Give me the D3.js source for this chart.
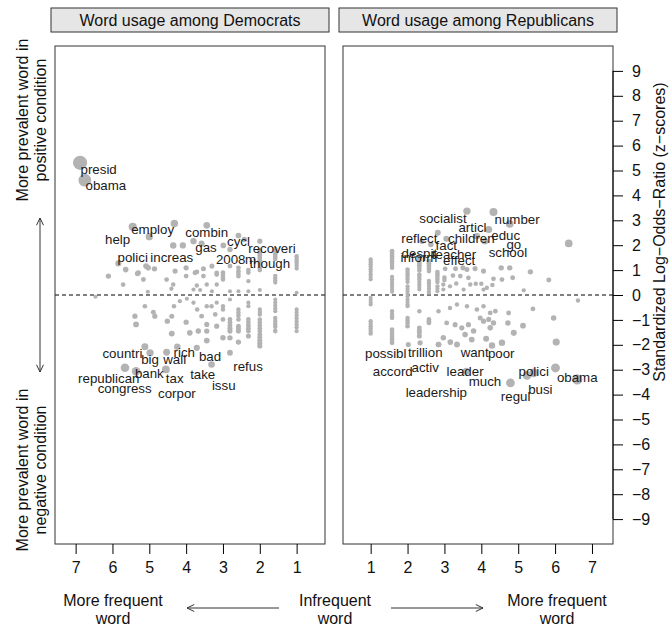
<!DOCTYPE html>
<html>
<head>
<meta charset="utf-8">
<script src="https://cdn.jsdelivr.net/npm/d3@7"></script>
<style>
body { margin: 0; background: #fff; }
text { font-family: "Liberation Sans", Arial, Helvetica, sans-serif; }
</style>
</head>
<body>
<svg id="chart" width="672" height="628"></svg>
<script>
// ---- data ----
const panelTitles = ["Word usage among Democrats", "Word usage among Republicans"];
const xTicks = [1, 2, 3, 4, 5, 6, 7];
const yTicks = [-9, -8, -7, -6, -5, -4, -3, -2, -1, 0, 1, 2, 3, 4, 5, 6, 7, 8, 9];
const yTitle = "Standardized Log\u2212Odds\u2212Ratio (z\u2212scores)";

// [log frequency, z-score]
const demPoints = [
    [6.88, 5.31], [6.75, 4.61],
    [5.45, 2.74], [5.0, 2.34], [4.32, 2.87], [3.44, 2.80], [2.58, 2.39], [2.0, 2.16],
    [4.35, 1.99], [4.09, 1.99], [3.80, 2.16], [3.58, 2.07], [2.99, 1.99], [2.81, 1.83], [2.42, 2.23], [1.58, 1.84],
    [5.84, 1.27], [5.64, 1.02], [5.3, 0.89], [5.09, 1.16], [4.86, 1.05], [4.3, 0.96], [4.0, 1.09], [3.76, 0.89],
    [3.53, 1.05], [3.3, 1.16], [3.17, 0.89], [2.81, 1.16], [2.58, 1.09],
    [6.11, 0.76], [5.71, 0.42], [5.32, 0.86], [5.16, 0.62], [5.03, 1.09], [4.53, 0.62], [4.35, 0.42], [4.0, 0.76],
    [3.71, 0.92], [3.71, 0.38], [3.53, 0.76], [3.44, 0.42], [3.17, 0.82], [3.17, 0.42], [2.31, 0.56],
    [3.8, 0.22], [3.62, 0.2], [3.3, 0.15], [2.81, 0.15], [2.58, 0.15], [2.31, 0.15], [5.04, 0.13], [4.4, 0.25],
    [6.46, -0.07], [1.0, 0.09], [2.0, 0.2],
    [3.0, 0.9], [3.0, 0.8], [3.0, 0.7], [3.0, 0.62],
    [2.58, 0.95], [2.58, 0.85], [2.58, 0.75],
    [2.31, 1.0], [2.31, 0.9],
    [2.0, 1.8], [2.0, 1.7], [2.0, 1.6], [2.0, 1.5], [2.0, 1.4], [2.0, 1.3], [2.0, 1.2], [2.0, 1.1], [2.0, 1.0],
    [1.58, 1.74], [1.58, 1.64], [1.58, 1.54], [1.58, 1.45],
    [1.58, 0.77], [1.58, 0.67], [1.58, 0.58], [1.58, 0.5],
    [1.0, 1.56], [1.0, 1.46], [1.0, 1.36], [1.0, 1.26], [1.0, 1.16], [1.0, 1.06],
    // below zero
    [5.39, -0.85], [5.36, -1.18], [5.12, -0.45], [4.89, -0.69], [4.85, -0.85], [4.51, -1.05], [4.39, -0.85],
    [4.39, -1.55], [4.33, -0.45], [4.17, -0.25], [3.98, -0.15], [4.0, -1.09], [3.9, -1.52], [3.8, -0.31],
    [3.7, -0.58], [3.67, -1.45], [3.58, -0.85], [3.44, -0.45], [3.44, -1.18], [3.44, -1.45], [3.44, -1.83],
    [3.31, -0.45], [3.21, -0.78], [3.17, -0.31], [3.17, -1.25],
    [3.0, -0.45], [3.0, -0.58], [3.0, -0.98], [3.0, -1.72],
    [2.81, -0.18], [2.81, -0.98], [2.81, -1.1], [2.81, -1.22], [2.81, -1.34], [2.81, -1.45], [2.81, -1.72],
    [2.58, -0.58], [2.58, -0.7], [2.58, -0.82], [2.58, -0.98], [2.58, -1.25], [2.58, -1.35], [2.58, -1.45], [2.58, -1.89],
    [2.31, -0.31], [2.31, -0.45], [2.31, -0.98], [2.31, -1.1], [2.31, -1.22], [2.31, -1.34], [2.31, -1.45], [2.31, -1.65],
    [2.0, -0.58], [2.0, -0.68], [2.0, -0.78], [2.0, -0.98], [2.0, -1.1], [2.0, -1.22], [2.0, -1.34], [2.0, -1.45],
    [2.0, -1.59], [2.0, -1.7], [2.0, -1.82], [2.0, -1.94], [2.0, -2.05],
    [1.58, -0.18], [1.58, -0.3], [1.58, -0.42], [1.58, -0.54], [1.58, -0.65],
    [1.58, -0.92], [1.58, -1.04], [1.58, -1.16], [1.58, -1.28], [1.58, -1.45],
    [1.0, -0.58], [1.0, -0.7], [1.0, -0.82], [1.0, -0.94], [1.0, -1.06], [1.0, -1.18], [1.0, -1.3], [1.0, -1.45],
    // labelled words below zero
    [5.12, -2.08], [4.98, -2.32], [5.66, -2.92], [5.36, -3.06], [4.53, -2.3], [4.24, -2.08],
    [3.71, -2.12], [3.31, -2.79], [4.55, -2.99], [2.81, -2.32]
];

// [word, log frequency, z-score] of the text
const demLabels = [
    ["presid", 6.375, 5.04], ["obama", 6.18, 4.41],
    ["employ", 4.91, 2.63], ["help", 5.86, 2.23], ["combin", 3.44, 2.5], ["cycl", 2.58, 2.16],
    ["recoveri", 1.67, 1.88], ["gas", 3.46, 1.9], ["polici", 5.45, 1.51], ["increas", 4.39, 1.51],
    ["2008", 2.79, 1.45], ["m", 2.25, 1.42], ["though", 1.73, 1.27],
    ["countri", 5.73, -2.35], ["big", 4.98, -2.59], ["rich", 4.05, -2.32], ["wall", 4.31, -2.59],
    ["bad", 3.35, -2.46], ["refus", 2.32, -2.86], ["republican", 6.1, -3.33], ["bank", 5.0, -3.13],
    ["tax", 4.31, -3.33], ["take", 3.55, -3.19], ["congress", 5.67, -3.73], ["issu", 2.98, -3.63],
    ["corpor", 4.25, -3.93]
];

const repPoints = [
    [3.61, 3.37], [4.33, 3.33], [4.77, 2.86], [4.2, 2.63], [2.82, 2.5], [3.05, 2.26], [3.88, 2.36],
    [4.1, 2.16], [2.39, 2.16], [2.63, 2.03], [6.37, 2.07],
    [5.33, 0.93], [5.83, 0.6], [5.15, 0.19], [6.62, -0.22], [4.85, 0.69], [4.54, 1.09], [4.77, 1.09],
    [4.33, 0.65], [4.56, 0.62], [4.06, 0.96], [4.15, 0.29], [4.06, 0.22], [3.61, 1.02], [3.5, 1.09],
    [3.3, 1.05], [3.83, 1.06], [3.43, 0.76], [3.65, 0.69], [3.7, 0.42], [3.85, 0.45], [3.32, 0.46],
    [3.52, 0.22], [3.23, 0.78], [3.02, 1.05], [3.15, 0.35], [2.97, 0.42], [2.97, 0.22], [4.3, 0.4], [4.0, 0.45],
    [3.0, 0.6], [3.0, 0.7],
    [1.0, 1.43], [1.0, 1.33], [1.0, 1.23], [1.0, 1.13], [1.0, 1.03], [1.0, 0.93], [1.0, 0.83], [1.0, 0.73], [1.0, 0.63],
    [1.0, -0.11], [1.0, -0.2], [1.0, -0.3], [1.0, -0.38],
    [1.0, -1.05], [1.0, -1.15], [1.0, -1.25], [1.0, -1.35], [1.0, -1.45], [1.0, -1.55],
    [1.58, 1.76], [1.58, 1.66], [1.58, 1.56], [1.58, 1.46], [1.58, 1.36], [1.58, 1.26], [1.58, 1.16], [1.58, 1.09],
    [1.58, 0.73], [1.58, 0.63], [1.58, 0.53], [1.58, 0.43], [1.58, 0.33], [1.58, 0.23], [1.58, 0.13],
    [1.58, -0.65], [1.58, -0.75], [1.58, -0.85], [1.58, -0.92],
    [1.58, -1.39], [1.58, -1.49], [1.58, -1.59], [1.58, -1.69], [1.58, -1.79], [1.58, -1.92],
    [2.0, 1.02], [2.0, 0.92], [2.0, 0.82], [2.0, 0.72], [2.0, 0.62], [2.0, 0.52],
    [2.0, 0.35], [2.0, 0.25], [2.0, 0.15], [2.0, 0.05], [2.0, -0.05],
    [2.0, -0.18], [2.0, -0.28], [2.0, -0.38], [2.0, -0.45],
    [2.0, -0.92], [2.0, -1.02], [2.0, -1.12], [2.0, -1.25], [2.02, -1.99],
    [2.32, 1.49], [2.32, 1.39], [2.32, 1.29], [2.32, 1.19], [2.32, 1.09], [2.32, 0.99],
    [2.32, 0.82], [2.32, 0.72], [2.32, 0.62], [2.32, 0.52], [2.32, 0.42], [2.32, 0.32], [2.32, 0.22],
    [2.32, -0.65], [2.32, -1.32], [2.32, -1.42], [2.32, -1.52], [2.32, -1.65], [2.34, -1.92],
    [2.58, 1.36], [2.58, 1.26], [2.58, 1.16], [2.58, 1.06], [2.58, 0.96],
    [2.58, 0.56], [2.58, 0.46], [2.58, 0.36], [2.58, 0.26], [2.58, 0.16], [2.58, 0.09],
    [2.58, -0.98], [2.58, -1.05], [2.58, -1.12],
    [2.81, 0.92], [2.81, 0.82], [2.81, 0.72], [2.81, 0.62], [2.81, 0.52],
    [2.81, 0.35], [2.81, 0.25], [2.81, 0.15], [2.84, -0.65], [2.84, -1.99],
    [3.15, -0.52], [3.34, -0.38], [3.61, -0.45], [3.88, -0.58], [4.06, -0.45], [4.24, -0.72], [4.38, -0.65],
    [3.06, -1.12], [3.29, -1.19], [3.47, -1.32], [3.65, -1.19], [3.79, -1.45], [3.97, -0.92], [4.06, -1.05],
    [4.2, -0.98], [4.33, -1.12], [3.56, -1.59], [3.74, -1.79], [4.24, -1.32], [4.74, -0.72], [4.72, -1.12],
    [5.4, -0.56], [5.96, -0.92], [5.13, -1.23], [4.88, -1.52], [4.56, -1.92], [4.29, -2.03], [4.13, -1.76],
    [3.34, -1.99], [3.16, -1.89], [2.84, -1.99], [2.97, -1.72], [6.03, -1.89],
    [3.59, -3.06], [4.79, -3.53], [5.24, -3.23], [5.42, -3.13], [6.01, -2.93], [6.6, -3.39]
];

const repLabels = [
    ["socialist", 2.96, 3.06], ["number", 4.97, 3.03], ["articl", 3.76, 2.71], ["reflect", 2.32, 2.28],
    ["children", 3.73, 2.27], ["educ", 4.66, 2.39], ["fact", 3.05, 1.99], ["go", 4.88, 2.03],
    ["despit", 2.32, 1.69], ["inform", 2.31, 1.53], ["teacher", 3.26, 1.63], ["effect", 3.4, 1.4],
    ["school", 4.72, 1.72],
    ["possibl", 1.41, -2.35], ["trillion", 2.48, -2.3], ["want", 3.82, -2.3], ["poor", 4.54, -2.35],
    ["accord", 1.6, -3.05], ["activ", 2.48, -2.89], ["leader", 3.56, -3.05], ["polici", 5.42, -3.05],
    ["obama", 6.6, -3.29], ["much", 4.1, -3.45], ["busi", 5.6, -3.77], ["leadership", 2.78, -3.9],
    ["regul", 4.93, -4.06]
];

// ---- layout ----
const svg = d3.select('#chart');
const plotTop = 46, plotBottom = 544;
const baseFont = '16px', wordFont = '13.3px';
const panels = [
    { x0: 55, x1: 325, domain: [7.56, 0.23], points: demPoints, labels: demLabels, title: panelTitles[0] },
    { x0: 343, x1: 613, domain: [0.25, 7.57], points: repPoints, labels: repLabels, title: panelTitles[1] }
];

const yScale = d3.scaleLinear().domain([-10, 10]).range([plotBottom, plotTop]);
const rScale = d3.scaleLinear().domain([0, 36.5]).range([2, 7.1]);

panels.forEach(p => {
    const xScale = d3.scaleLinear().domain(p.domain).range([p.x0, p.x1]);

    // strip header
    svg.append('rect')
        .attr('x', p.x0 - 4).attr('y', 8)
        .attr('width', p.x1 - p.x0 + 8).attr('height', 24)
        .attr('fill', '#e6e6e6').attr('stroke', '#333').attr('stroke-width', 1);
    svg.append('text')
        .attr('x', (p.x0 + p.x1) / 2).attr('y', 26)
        .attr('text-anchor', 'middle').style('font-size', baseFont).attr('fill', '#111')
        .text(p.title);

    // zero line
    svg.append('line')
        .attr('x1', p.x0).attr('x2', p.x1)
        .attr('y1', yScale(0)).attr('y2', yScale(0))
        .attr('stroke', '#000').attr('stroke-dasharray', '4,3');

    // points
    svg.append('g').selectAll('circle')
        .data(p.points)
        .join('circle')
        .attr('cx', d => xScale(d[0]))
        .attr('cy', d => yScale(d[1]))
        .attr('r', d => rScale(d[0] * Math.abs(d[1])))
        .attr('fill', '#b3b3b3');

    // word labels
    svg.append('g').selectAll('text')
        .data(p.labels)
        .join('text')
        .attr('x', d => xScale(d[1]))
        .attr('y', d => yScale(d[2]))
        .attr('dy', '0.35em')
        .attr('text-anchor', 'middle')
        .style('font-size', wordFont)
        .attr('fill', '#1a1a1a')
        .text(d => d[0]);

    // frame
    svg.append('rect')
        .attr('x', p.x0).attr('y', plotTop)
        .attr('width', p.x1 - p.x0).attr('height', plotBottom - plotTop)
        .attr('fill', 'none').attr('stroke', '#333');

    // x axis
    const xAxis = svg.append('g')
        .attr('transform', `translate(0,${plotBottom})`)
        .call(d3.axisBottom(xScale).tickValues(xTicks).tickSize(10).tickPadding(8).tickFormat(d3.format('d')));
    xAxis.select('.domain').remove();
    xAxis.selectAll('text').style('font-size', baseFont).attr('fill', '#111');
});

// right y axis, labels left-justified as in base R
const yAxis = svg.append('g')
    .attr('transform', `translate(613,0)`)
    .call(d3.axisRight(yScale).tickValues(yTicks).tickSize(10).tickPadding(9)
        .tickFormat(d => d < 0 ? '\u2212' + Math.abs(d) : d));
yAxis.select('.domain').attr('d', `M0,${yScale(9)}V${yScale(-9)}`);
yAxis.selectAll('text').style('font-size', baseFont).attr('fill', '#111');

svg.append('text')
    .attr('transform', 'translate(665,232) rotate(-90)')
    .attr('text-anchor', 'middle').style('font-size', baseFont).attr('fill', '#111')
    .text(yTitle);

// left side annotation
const sideText = [
    ["More prevalent word in", "positive condition", 120],
    ["More prevalent word in", "negative condition", 470]
];
sideText.forEach(s => {
    svg.append('text')
        .attr('transform', `translate(28,${s[2]}) rotate(-90)`)
        .attr('text-anchor', 'middle').style('font-size', baseFont).attr('fill', '#111')
        .text(s[0]);
    svg.append('text')
        .attr('transform', `translate(46,${s[2]}) rotate(-90)`)
        .attr('text-anchor', 'middle').style('font-size', baseFont).attr('fill', '#111')
        .text(s[1]);
});

function arrowLine(x1, y1, x2, y2, both) {
    const g = svg.append('g').attr('stroke', '#333').attr('fill', 'none').attr('stroke-width', 1);
    g.append('line').attr('x1', x1).attr('y1', y1).attr('x2', x2).attr('y2', y2);
    const head = (xa, ya, xb, yb) => {
        const a = Math.atan2(yb - ya, xb - xa), L = 8, w = 0.45;
        g.append('path').attr('d',
            `M${xb - L * Math.cos(a - w)},${yb - L * Math.sin(a - w)}L${xb},${yb}L${xb - L * Math.cos(a + w)},${yb - L * Math.sin(a + w)}`);
    };
    head(x1, y1, x2, y2);
    if (both) head(x2, y2, x1, y1);
}
arrowLine(40, 372, 40, 218, true);

// bottom annotation
const bottomText = [
    ["More frequent", "word", 113],
    ["Infrequent", "word", 335],
    ["More frequent", "word", 557]
];
bottomText.forEach(b => {
    svg.append('text').attr('x', b[2]).attr('y', 606)
        .attr('text-anchor', 'middle').style('font-size', baseFont).attr('fill', '#111').text(b[0]);
    svg.append('text').attr('x', b[2]).attr('y', 624)
        .attr('text-anchor', 'middle').style('font-size', baseFont).attr('fill', '#111').text(b[1]);
});
arrowLine(279, 608, 187, 608, false);
arrowLine(391, 608, 483, 608, false);
</script>
</body>
</html>
